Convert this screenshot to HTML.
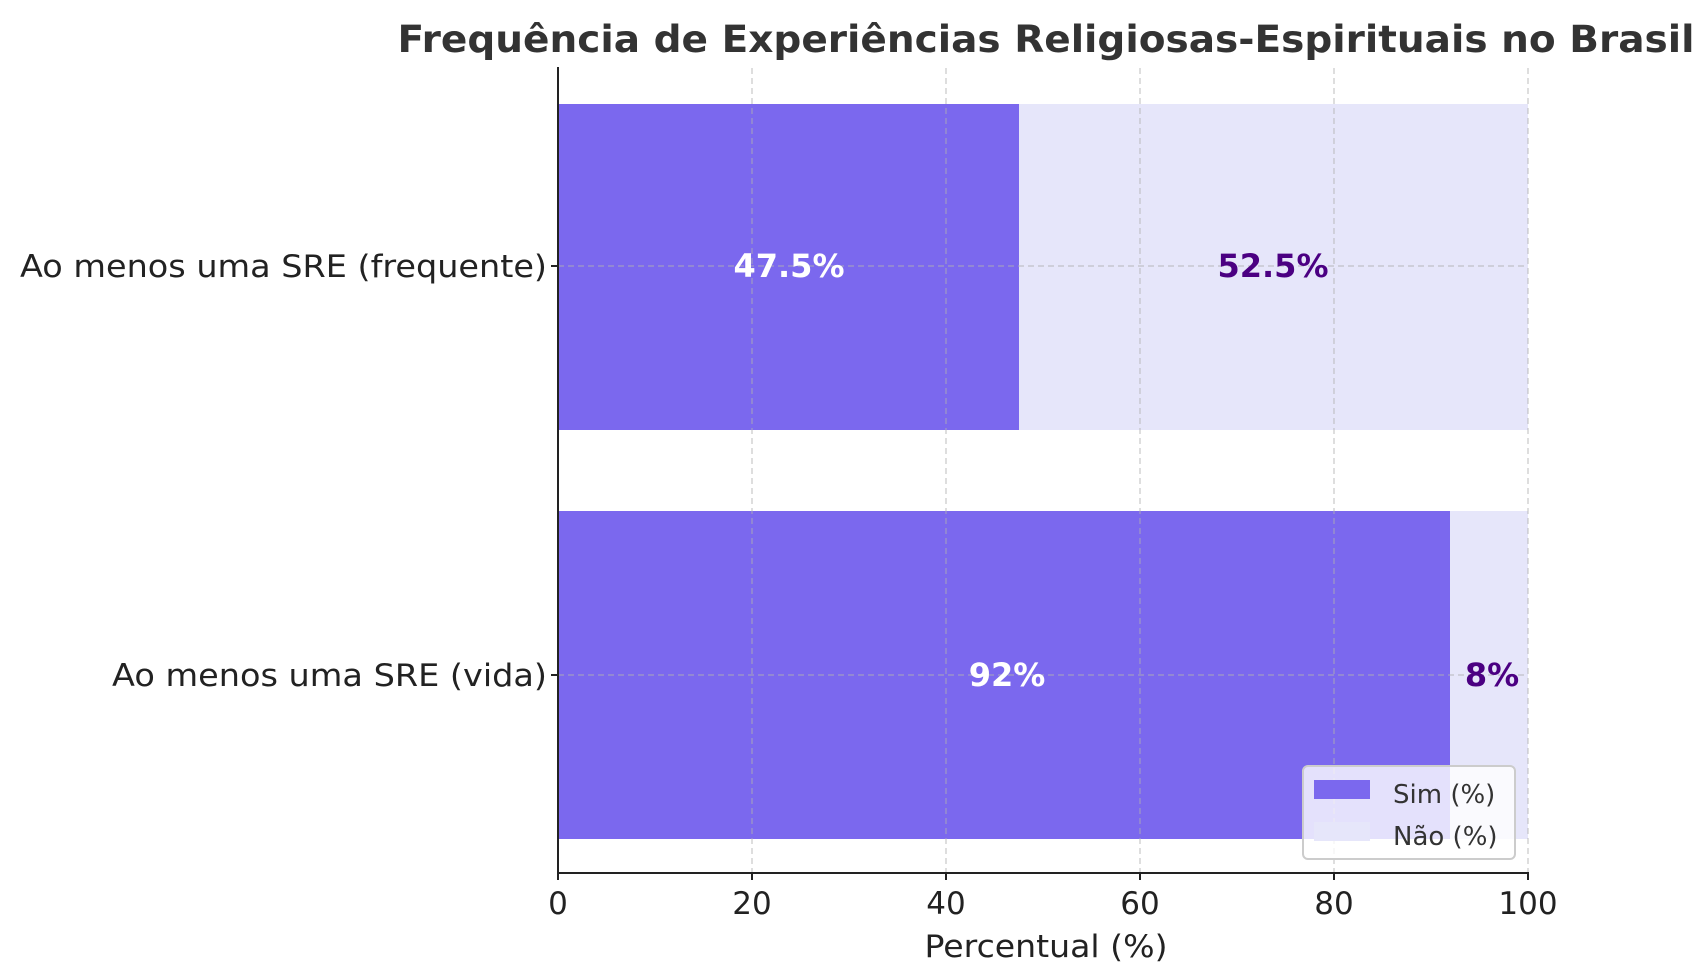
<!DOCTYPE html>
<html><head><meta charset="utf-8"><style>body{margin:0;background:#fff}svg{display:block}</style></head>
<body>
<svg width="1707" height="979" xmlns="http://www.w3.org/2000/svg" font-family="DejaVu Sans, Liberation Sans, sans-serif">
<rect width="1707" height="979" fill="#fff"/>
<text x="1046" y="52" text-anchor="middle" font-size="37" font-weight="bold" fill="#333" textLength="1297" lengthAdjust="spacingAndGlyphs">Frequência de Experiências Religiosas-Espirituais no Brasil</text>
<!-- bars -->
<rect x="558" y="104" width="461" height="326" fill="#7B68EE"/>
<rect x="1019" y="104" width="509" height="326" fill="#E6E6FA"/>
<rect x="558" y="511" width="892" height="328" fill="#7B68EE"/>
<rect x="1450" y="511" width="78" height="328" fill="#E6E6FA"/>
<!-- grid -->
<g stroke="#b0b0b0" stroke-opacity="0.7" stroke-dasharray="6,4" stroke-width="1.2">
<line x1="752" y1="68" x2="752" y2="872"/><line x1="946" y1="68" x2="946" y2="872"/>
<line x1="1140" y1="68" x2="1140" y2="872"/><line x1="1334" y1="68" x2="1334" y2="872"/>
<line x1="1528" y1="68" x2="1528" y2="872"/>
<line x1="558" y1="266" x2="1528" y2="266"/><line x1="558" y1="675" x2="1528" y2="675"/>
</g>
<!-- axes -->
<g stroke="#222" stroke-width="2">
<line x1="558" y1="67" x2="558" y2="873"/><line x1="557" y1="873" x2="1529" y2="873"/>
<line x1="558" y1="873" x2="558" y2="880"/><line x1="752" y1="873" x2="752" y2="880"/>
<line x1="946" y1="873" x2="946" y2="880"/><line x1="1140" y1="873" x2="1140" y2="880"/>
<line x1="1334" y1="873" x2="1334" y2="880"/><line x1="1528" y1="873" x2="1528" y2="880"/>
<line x1="551" y1="266" x2="558" y2="266"/><line x1="551" y1="675" x2="558" y2="675"/>
</g>
<g font-size="31" fill="#222" text-anchor="middle">
<text x="558" y="914">0</text><text x="752" y="914">20</text><text x="946" y="914">40</text>
<text x="1140" y="914">60</text><text x="1334" y="914">80</text><text x="1528" y="914">100</text>
<text x="1046" y="957" textLength="243" lengthAdjust="spacingAndGlyphs">Percentual (%)</text>
</g>
<g font-size="31" fill="#222" text-anchor="end">
<text x="547" y="277" textLength="527" lengthAdjust="spacingAndGlyphs">Ao menos uma SRE (frequente)</text>
<text x="547" y="686" textLength="435" lengthAdjust="spacingAndGlyphs">Ao menos uma SRE (vida)</text>
</g>
<g font-size="32" font-weight="bold" text-anchor="middle">
<text x="789" y="277" fill="#fff">47.5%</text>
<text x="1273" y="277" fill="#4B0082">52.5%</text>
<text x="1007" y="686" fill="#fff">92%</text>
<text x="1492" y="686" fill="#4B0082">8%</text>
</g>
<!-- legend -->
<rect x="1303" y="766" width="212" height="93" rx="5" fill="#fff" fill-opacity="0.8" stroke="#ccc" stroke-width="2"/>
<rect x="1314" y="780" width="56" height="19" fill="#7B68EE"/>
<rect x="1314" y="822" width="56" height="19" fill="#E6E6FA"/>
<g font-size="26" fill="#333">
<text x="1393" y="803">Sim (%)</text>
<text x="1393" y="845">Não (%)</text>
</g>
</svg>
</body></html>
